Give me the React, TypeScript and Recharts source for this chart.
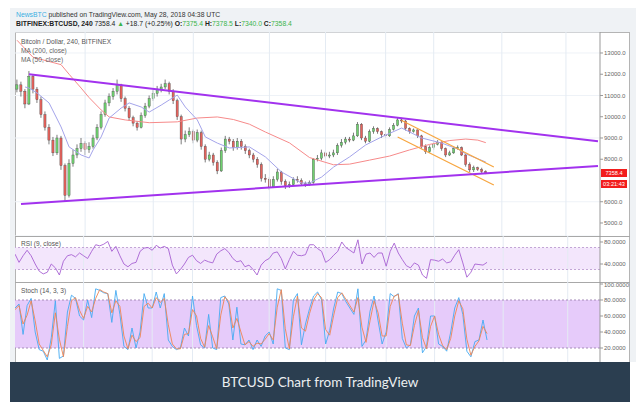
import React from 'react';
import {
  ComposedChart,
  Bar,
  Line,
  XAxis,
  YAxis,
  CartesianGrid,
  ReferenceLine,
  ReferenceArea,
} from 'recharts';

// 4h candles (one bar ~ every 4px)
const firstOpen = 11300;
const closes = [
  11500, 11200, 10600, 11900, 11300, 10800, 10100, 9500, 8900, 8300,
  9000, 7700, 6300, 7800, 8200, 8500, 8750, 8450, 8600, 9000,
  9500, 10100, 10650, 10950, 11200, 11500, 10850, 10400, 9950, 9700,
  9500, 10050, 10500, 10850, 11100, 11300, 11400, 11550, 11200, 10750,
  10000, 8950, 9150, 9300, 8900, 9250, 8600, 8000, 8200, 7850,
  7450, 8400, 8950, 8850, 8550, 8850, 8600, 8400, 8200, 8000,
  7750, 7100, 7050, 6700, 7050, 7400, 6950, 6750, 6800, 7050,
  7000, 6850, 6800, 6900, 8000, 8050, 8300, 8150, 8200, 8300,
  8650, 8800, 8950, 8900, 9100, 9650, 9000, 8850, 9300, 9450,
  9300, 9150, 9100, 9400, 9600, 9850, 9800, 9450, 9300, 9380,
  9100, 8600, 8350, 8550, 8700, 8800, 8500, 8200, 8300, 8500,
  8550, 8200, 7750, 7500, 7600, 7520, 7420, 7358.4,
];
const highs = [
  11750, 11650, 11300, 12150, 12000, 11400, 10950, 10250, 9650, 9050,
  9150, 9100, 7800, 8000, 8450, 8700, 9000, 8850, 8800, 9150,
  9650, 10250, 10800, 11100, 11350, 11750, 11550, 10950, 10500, 10050,
  9800, 10200, 10650, 11000, 11250, 11450, 11550, 11750, 11650, 11300,
  10850, 10100, 9350, 9500, 9400, 9400, 9350, 8700, 8350, 8300,
  7950, 8550, 9100, 9050, 8950, 9000, 8950, 8700, 8500, 8300,
  8100, 7850, 7300, 7150, 7200, 7550, 7450, 7050, 6950, 7150,
  7200, 7100, 6950, 7000, 8050, 8200, 8450, 8400, 8350, 8450,
  8750, 8950, 9050, 9050, 9250, 9750, 9700, 9100, 9400, 9550,
  9500, 9350, 9250, 9500, 9700, 9950, 9950, 9850, 9500, 9450,
  9400, 9150, 8700, 8650, 8800, 8900, 8850, 8550, 8400, 8600,
  8650, 8600, 8250, 7850, 7700, 7650, 7600, 7480,
];
const lows = [
  11150, 10950, 10400, 10550, 11100, 10650, 9950, 9350, 8700, 8150,
  8200, 7500, 6000, 6200, 7650, 8050, 8350, 8200, 8300, 8500,
  8900, 9400, 10000, 10500, 10800, 11050, 10700, 10250, 9800, 9550,
  9350, 9450, 9950, 10400, 10750, 10950, 11150, 11300, 11050, 10600,
  9850, 8700, 8800, 9050, 8750, 8800, 8450, 7850, 7900, 7700,
  7300, 7400, 8300, 8700, 8400, 8450, 8450, 8250, 8050, 7850,
  7600, 6950, 6900, 6550, 6650, 6950, 6800, 6600, 6650, 6750,
  6900, 6750, 6700, 6750, 6850, 7900, 7950, 8050, 8050, 8100,
  8200, 8550, 8700, 8800, 8850, 9050, 8900, 8750, 8800, 9200,
  9200, 9000, 9000, 9050, 9350, 9550, 9700, 9350, 9200, 9250,
  9000, 8500, 8250, 8300, 8450, 8650, 8400, 8100, 8150, 8250,
  8450, 8150, 7650, 7400, 7400, 7450, 7350, 7300,
];

// moving averages: [bar index, price]
const ma200: [number, number][] = [
  [0, 13600], [4, 12800], [8, 12600], [11, 12450], [13, 12000], [16, 11350],
  [18, 10900], [21, 10320], [23, 9990], [27, 9850], [33, 9720], [40, 9760],
  [45, 9940], [50, 9990], [54, 9870], [58, 9650], [62, 9280], [68, 8770],
  [73, 8080], [79, 7740], [83, 7770], [88, 7960], [93, 8150], [98, 8440],
  [103, 8700], [108, 8880], [112, 8950], [115, 8900], [117, 8780],
];
const ma50: [number, number][] = [
  [2, 11400], [3, 11350], [5, 11120], [8, 10650], [11, 9520], [13, 8580],
  [16, 8200], [18, 8060], [19, 8440], [21, 9050], [23, 9940], [26, 10410],
  [28, 10650], [31, 10460], [33, 10220], [36, 10550], [38, 10790], [40, 11020],
  [42, 10460], [45, 9850], [47, 9050], [50, 8760], [53, 8530], [58, 8580],
  [62, 8110], [66, 7400], [71, 6880], [73, 6880], [76, 7160], [79, 7630],
  [83, 8110], [87, 8670], [91, 9050], [96, 9470], [101, 9000], [106, 8760],
  [110, 8480], [112, 8250], [117, 7870],
];

// drawn trend lines
const triangleTop: [number, number][] = [[3, 12000], [145, 8845]];
const triangleBottom: [number, number][] = [[1, 5894], [145, 7687]];
const channelTop: [number, number][] = [[96, 9824], [119, 7635]];
const channelBottom: [number, number][] = [[95, 9047], [119, 6788]];

const rsi = [
  58, 43, 55, 65, 55, 40, 27, 22, 25, 40,
  33, 20, 45, 55, 57, 53, 60, 55, 50, 63,
  75, 73, 76, 81, 63, 72, 55, 40, 35, 41,
  43, 63, 69, 70, 65, 74, 69, 72, 68, 38,
  22, 30, 40, 52, 56, 46, 41, 47, 44, 42,
  58, 64, 68, 61, 50, 44, 46, 35, 38, 30,
  20, 38, 46, 50, 60, 62, 50, 31, 48, 63,
  56, 55, 57, 75, 75, 68, 63, 43, 48, 56,
  63, 80, 70, 65, 60, 84, 40, 58, 60, 52,
  60, 60, 36, 63, 78, 60, 48, 37, 33, 42,
  38, 20, 14, 48, 47, 45, 49, 42, 44, 56,
  66, 42, 16, 25, 40, 39, 38, 43,
];
const stochK = [
  70, 75, 37, 73, 82, 40, 18, 16, 5, 33,
  79, 7, 10, 65, 86, 82, 60, 55, 80, 58,
  94, 92, 89, 88, 52, 92, 62, 22, 18, 45,
  20, 40, 88, 70, 70, 90, 70, 88, 30, 22,
  18, 20, 45, 35, 85, 48, 24, 20, 62, 20,
  18, 83, 85, 75, 30, 71, 25, 24, 30, 18,
  30, 22, 35, 40, 25, 94, 92, 20, 18, 80,
  88, 24, 50, 69, 85, 90, 80, 25, 42, 70,
  90, 88, 78, 70, 62, 94, 22, 30, 66, 85,
  54, 25, 40, 88, 84, 88, 32, 20, 24, 60,
  70, 14, 22, 60, 60, 25, 22, 16, 40, 70,
  83, 62, 16, 9, 28, 30, 55, 30,
];
const stochD = [
  68, 73, 50, 61, 79, 54, 25, 17, 9, 24,
  64, 31, 9, 47, 79, 83, 67, 57, 72, 65,
  82, 93, 90, 88, 64, 79, 72, 35, 19, 36,
  28, 33, 72, 76, 70, 83, 77, 82, 49, 25,
  19, 19, 37, 38, 68, 60, 32, 21, 48, 34,
  19, 61, 84, 78, 45, 57, 40, 24, 28, 22,
  26, 25, 31, 38, 30, 71, 93, 44, 19, 59,
  85, 45, 41, 63, 80, 88, 83, 43, 36, 61,
  83, 89, 81, 73, 65, 83, 46, 27, 54, 79,
  64, 35, 35, 72, 85, 87, 51, 24, 23, 48,
  67, 33, 19, 47, 60, 37, 23, 18, 32, 60,
  79, 69, 31, 11, 22, 29, 47, 38,
];

// 7000 sits under the last-price tags, so it is not labelled
const priceTicks = [5000, 6000, 8000, 9000, 10000, 11000, 12000, 13000];
const rsiTicks = [40, 80];
const stochTicks = [0, 20, 40, 60, 80, 100];
const dateLines = [17, 34, 44, 63, 77, 92, 104, 121, 137];
const SLOTS = 146;

const rows: any[] = Array.from({ length: SLOTS }, (_, i) => {
  const r: any = { i };
  if (i < closes.length) {
    r.open = i === 0 ? firstOpen : closes[i - 1];
    r.close = closes[i];
    r.high = highs[i];
    r.low = lows[i];
    r.wick = [lows[i], highs[i]];
    r.rsi = rsi[i];
    r.k = stochK[i];
    r.d = stochD[i];
  }
  return r;
});
const put = (key: string, pts: [number, number][]) =>
  pts.forEach(([i, v]) => {
    rows[i][key] = v;
  });
put('ma200', ma200);
put('ma50', ma50);
put('triTop', triangleTop);
put('triBot', triangleBottom);
put('chTop', channelTop);
put('chBot', channelBottom);

const FONT = '"Liberation Sans", Arial, sans-serif';
const axisTick = { fontSize: 6, fill: '#666', fontFamily: FONT };
const W = 615;

const Candle = (props: any) => {
  const { x, y, width, height, payload } = props;
  if (!payload || payload.high == null) return null;
  const top = Math.min(y, y + height);
  const h = Math.abs(height);
  const span = payload.high - payload.low || 1;
  const py = (p: number) => top + ((payload.high - p) / span) * h;
  const cx = x + width / 2;
  const up = payload.close >= payload.open;
  const yo = py(payload.open);
  const yc = py(payload.close);
  const bt = Math.min(yo, yc);
  const bh = Math.max(1, Math.abs(yo - yc));
  return (
    <g>
      <line x1={cx} x2={cx} y1={top} y2={top + h} stroke="#444" strokeWidth={0.7} />
      <rect
        x={cx - 1.1}
        y={bt}
        width={2.2}
        height={bh}
        fill={up ? '#6fd06f' : '#e4625c'}
        stroke="#444"
        strokeWidth={0.35}
      />
    </g>
  );
};

const vLines = dateLines.map((d) => (
  <ReferenceLine key={d} x={d} stroke="#e4ebf3" strokeWidth={1} />
));

const paneLabel: React.CSSProperties = {
  position: 'absolute',
  left: 6,
  fontSize: 6.6,
  color: '#555',
  fontFamily: FONT,
  lineHeight: '9px',
  whiteSpace: 'nowrap',
};

const tag: React.CSSProperties = {
  position: 'absolute',
  left: 601,
  width: 26,
  height: 8,
  background: '#f21d1d',
  color: '#fff',
  fontSize: 5.6,
  lineHeight: '8px',
  textAlign: 'center',
  overflow: 'hidden',
};

const App: React.FC = () => {
  return (
    <div
      style={{
        position: 'absolute',
        left: 0,
        top: 0,
        width: 640,
        height: 409,
        background: '#fff',
        overflow: 'hidden',
        fontFamily: FONT,
      }}
    >
      {/* grey screenshot backdrop */}
      <div style={{ position: 'absolute', left: 10, top: 8, width: 626, height: 354, background: '#eff2f5' }} />

      {/* header */}
      <div style={{ position: 'absolute', left: 16, top: 11, fontSize: 6.8, color: '#333', whiteSpace: 'nowrap' }}>
        <span style={{ color: '#3ab0e2' }}>NewsBTC</span> published on TradingView.com, May 28, 2018 04:38 UTC
      </div>
      <div style={{ position: 'absolute', left: 16, top: 20, fontSize: 6.8, color: '#222', whiteSpace: 'nowrap' }}>
        <b>BITFINEX:BTCUSD, 240</b> 7358.4 <span style={{ color: '#3cb44b' }}>▲</span> +18.7 (+0.25%){' '}
        <b>O:</b><span style={{ color: '#3cb44b' }}>7375.4</span> <b>H:</b>
        <span style={{ color: '#3cb44b' }}>7378.5</span> <b>L:</b>
        <span style={{ color: '#3cb44b' }}>7340.0</span> <b>C:</b>
        <span style={{ color: '#3cb44b' }}>7358.4</span>
      </div>

      {/* chart frame */}
      <div
        style={{
          position: 'absolute',
          left: 15,
          top: 32,
          width: W,
          height: 338,
          background: '#fff',
          border: '1px solid #b4b4b4',
          boxSizing: 'border-box',
        }}
      />

      {/* price pane */}
      <div style={{ position: 'absolute', left: 15, top: 32, width: W, height: 204 }}>
        <ComposedChart width={W} height={204} data={rows} margin={{ top: 0, right: 0, bottom: 0, left: 0 }}>
          <CartesianGrid vertical={false} stroke="#eef2f7" />
          <XAxis dataKey="i" type="category" hide />
          <YAxis
            yAxisId={0}
            orientation="right"
            width={30}
            domain={[4388, 13988]}
            allowDataOverflow
            ticks={priceTicks}
            tickFormatter={(v: number) => v.toFixed(1)}
            tick={axisTick}
            tickSize={3}
            tickMargin={1}
            stroke="#999"
          />
          {vLines}
          <Line dataKey="ma200" stroke="#f68a8a" strokeWidth={1} dot={false} connectNulls isAnimationActive={false} />
          <Line dataKey="ma50" stroke="#a4a4ea" strokeWidth={1} dot={false} connectNulls isAnimationActive={false} />
          <Bar dataKey="wick" shape={<Candle />} isAnimationActive={false} />
          <Line dataKey="chTop" stroke="#f7a640" strokeWidth={1.3} dot={false} connectNulls isAnimationActive={false} />
          <Line dataKey="chBot" stroke="#f7a640" strokeWidth={1.3} dot={false} connectNulls isAnimationActive={false} />
          <Line dataKey="triTop" stroke="#a232ee" strokeWidth={2} dot={false} connectNulls isAnimationActive={false} />
          <Line dataKey="triBot" stroke="#a232ee" strokeWidth={2} dot={false} connectNulls isAnimationActive={false} />
        </ComposedChart>
        <div style={{ ...paneLabel, top: 5 }}>Bitcoin / Dollar, 240, BITFINEX</div>
        <div style={{ ...paneLabel, top: 14, color: '#666' }}>MA (200, close)</div>
        <div style={{ ...paneLabel, top: 23, color: '#666' }}>MA (50, close)</div>
      </div>

      {/* last price tags */}
      <div style={{ ...tag, top: 169 }}>7358.4</div>
      <div style={{ ...tag, top: 180 }}>03:21:43</div>

      {/* RSI pane */}
      <div style={{ position: 'absolute', left: 15, top: 236, width: W, height: 46, borderTop: '1px solid #a8a8a8', boxSizing: 'border-box' }} />
      <div style={{ position: 'absolute', left: 15, top: 236, width: W, height: 46 }}>
        <ComposedChart width={W} height={46} data={rows} margin={{ top: 0, right: 0, bottom: 0, left: 0 }}>
          <XAxis dataKey="i" type="category" hide />
          <YAxis
            orientation="right"
            width={30}
            domain={[7.3, 90.9]}
            allowDataOverflow
            ticks={rsiTicks}
            tickFormatter={(v: number) => v.toFixed(4)}
            tick={axisTick}
            tickSize={3}
            tickMargin={1}
            stroke="#999"
          />
          {vLines}
          <ReferenceArea y1={30} y2={70} fill="#f3e6fc" fillOpacity={1} stroke="none" />
          <ReferenceLine y={70} stroke="#c3a6d6" strokeDasharray="2 2" />
          <ReferenceLine y={30} stroke="#c3a6d6" strokeDasharray="2 2" />
          <Line dataKey="rsi" stroke="#a761d2" strokeWidth={0.9} dot={false} isAnimationActive={false} />
        </ComposedChart>
        <div style={{ ...paneLabel, top: 3 }}>RSI (9, close)</div>
      </div>

      {/* Stoch pane */}
      <div style={{ position: 'absolute', left: 15, top: 282, width: W, height: 88, borderTop: '1px solid #a8a8a8', boxSizing: 'border-box' }} />
      <div style={{ position: 'absolute', left: 15, top: 282, width: W, height: 88 }}>
        <ComposedChart width={W} height={88} data={rows} margin={{ top: 0, right: 0, bottom: 0, left: 0 }}>
          <XAxis dataKey="i" type="category" hide />
          <YAxis
            orientation="right"
            width={30}
            domain={[-7.5, 102.5]}
            allowDataOverflow
            ticks={stochTicks}
            tickFormatter={(v: number) => v.toFixed(4)}
            tick={axisTick}
            tickSize={3}
            tickMargin={1}
            stroke="#999"
          />
          {vLines}
          <ReferenceArea y1={20} y2={80} fill="#e6cbfa" fillOpacity={1} stroke="none" />
          <ReferenceLine y={80} stroke="#a58bb8" strokeDasharray="2 2" />
          <ReferenceLine y={20} stroke="#a58bb8" strokeDasharray="2 2" />
          <Line dataKey="k" stroke="#45aaf2" strokeWidth={0.9} dot={false} isAnimationActive={false} />
          <Line dataKey="d" stroke="#ee8452" strokeWidth={0.9} dot={false} isAnimationActive={false} />
        </ComposedChart>
        <div style={{ ...paneLabel, top: 4 }}>Stoch (14, 3, 3)</div>
      </div>

      {/* caption */}
      <div
        style={{
          position: 'absolute',
          left: 10,
          top: 362,
          width: 620,
          height: 40,
          background: '#2b3e50',
          color: '#eceff1',
          fontFamily: 'Lato, "Open Sans", sans-serif',
          fontSize: 13.5,
          lineHeight: '40px',
          textAlign: 'center',
        }}
      >
        BTCUSD Chart from TradingView
      </div>
    </div>
  );
};

export default App;
